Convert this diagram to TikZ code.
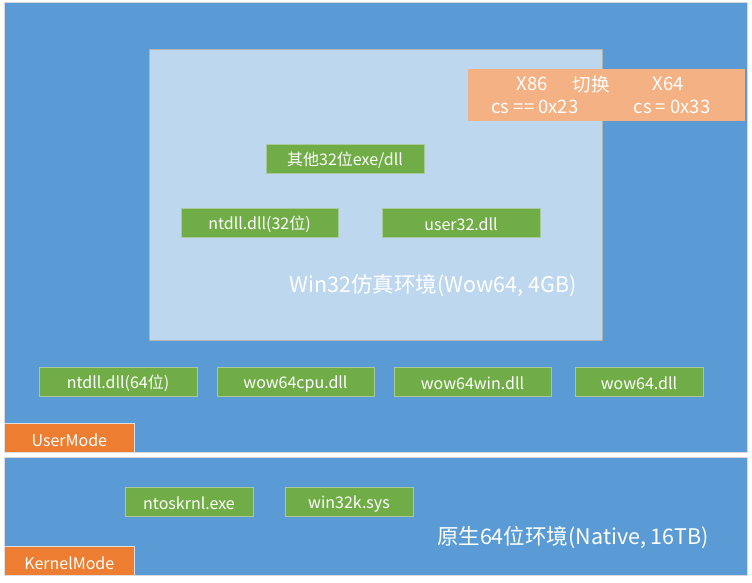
\documentclass[tikz,border=0pt]{standalone}
\usepackage{fontspec}
\setmainfont{Noto Sans CJK SC}
\definecolor{panelblue}{HTML}{5B9BD5}
\definecolor{lightblue}{HTML}{BDD7EE}
\definecolor{gboxfill}{HTML}{70AD47}
\definecolor{gboxline}{HTML}{A9C99A}
\definecolor{salmon}{HTML}{F4B183}
\definecolor{modeorange}{HTML}{ED7D31}
\begin{document}
\begin{tikzpicture}[x=1pt,y=-1pt,
  panel/.style={fill=panelblue,draw=black!15,line width=0.6pt},
  gbox/.style={fill=gboxfill,draw=gboxline,line width=0.8pt,text=white,minimum height=29pt,inner sep=0pt,font=\fontsize{16}{18}\selectfont},
  modebox/.style={fill=modeorange,draw=black!12,line width=0.6pt,text=white,minimum width=130pt,minimum height=29pt,inner sep=0pt,font=\fontsize{16}{18}\selectfont},
  wtext/.style={text=white,inner sep=0pt},
  gtext/.style={text=white,inner sep=0pt,yshift=-2pt}
]
\useasboundingbox[fill=white] (0,0) rectangle (752,583);
% panels
\node[panel,anchor=north west,minimum width=743pt,minimum height=450pt,inner sep=0pt] (user) at (4,2) {};
\node[panel,anchor=north west,minimum width=743pt,minimum height=118pt,inner sep=0pt] (kernel) at (4,457) {};
% wow64 area
\node[fill=lightblue,draw=black!30,line width=0.6pt,anchor=north west,minimum width=453pt,minimum height=291pt,inner sep=0pt] (wow) at (149,49) {};
% switch box
\node[fill=salmon,draw=none,anchor=north west,minimum width=277pt,minimum height=52pt,inner sep=0pt] (sw) at (468,69) {};
\node[gtext,font=\fontsize{18.5}{20}\selectfont] (x86) at (532,82) {X86};
\node[gtext,font=\fontsize{18.5}{20}\selectfont] (qh) at (591,82) {切换};
\node[gtext,font=\fontsize{18.5}{20}\selectfont] (x64) at (668,82) {X64};
\node[gtext,font=\fontsize{18.5}{20}\selectfont] (cs1) at (535,105) {cs == 0x23};
\node[gtext,font=\fontsize{18.5}{20}\selectfont] (cs2) at (672,105) {cs = 0x33};
% green boxes
\node[gbox,minimum width=158pt] (other) at (345,158.5) {};
\node[gtext,font=\fontsize{16}{18}\selectfont] at (other) {其他32位exe/dll};
\node[gbox,minimum width=157pt] (nt32) at (259.5,222.5) {};
\node[gtext,font=\fontsize{16}{18}\selectfont] at (nt32) {ntdll.dll(32位)};
\node[gbox,minimum width=158pt] (u32) at (461,222.5) {};
\node[gtext,font=\fontsize{16}{18}\selectfont] at (u32) {user32.dll};
\node[gtext,font=\fontsize{21.5}{24}\selectfont] (wowlbl) at (433,284) {Win32仿真环境(Wow64, 4GB)};
\node[gbox,minimum width=158pt] (nt64) at (118,381.5) {};
\node[gtext,font=\fontsize{16}{18}\selectfont] at (nt64) {ntdll.dll(64位)};
\node[gbox,minimum width=157pt] (cpu) at (295.5,381.5) {};
\node[gtext,font=\fontsize{16}{18}\selectfont] at (cpu) {wow64cpu.dll};
\node[gbox,minimum width=157pt] (win) at (472.5,381.5) {};
\node[gtext,font=\fontsize{16}{18}\selectfont] at (win) {wow64win.dll};
\node[gbox,minimum width=128pt] (w64) at (639,381.5) {};
\node[gtext,font=\fontsize{16}{18}\selectfont] at (w64) {wow64.dll};
\node[modebox,anchor=north west] (um) at (4,423) {};
\node[gtext,font=\fontsize{16}{18}\selectfont] at (um) {UserMode};
% kernel
\node[gbox,minimum width=128pt] (nto) at (189,501.5) {};
\node[gtext,font=\fontsize{16}{18}\selectfont] at (nto) {ntoskrnl.exe};
\node[gbox,minimum width=128pt] (w32k) at (349,501.5) {};
\node[gtext,font=\fontsize{16}{18}\selectfont] at (w32k) {win32k.sys};
\node[gtext,font=\fontsize{21.5}{24}\selectfont] (natlbl) at (573,535) {原生64位环境(Native, 16TB)};
\node[modebox,anchor=north west] (km) at (4,546) {};
\node[gtext,font=\fontsize{16}{18}\selectfont] at (km) {KernelMode};
\end{tikzpicture}
\end{document}
